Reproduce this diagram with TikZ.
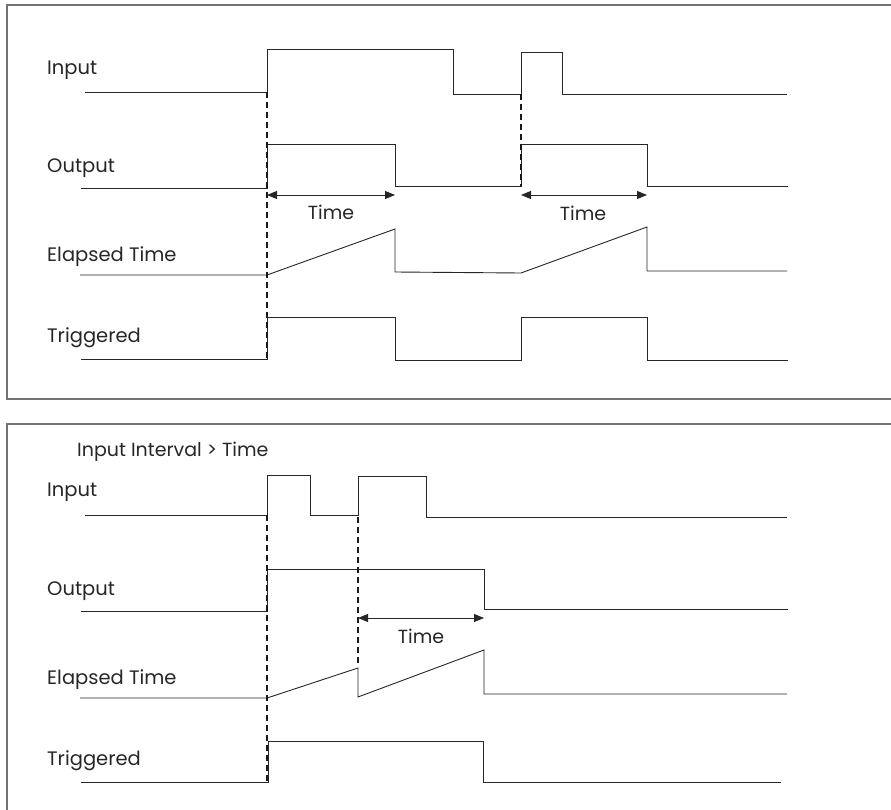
\documentclass[tikz,border=0pt]{standalone}
\usepackage{fontspec}
\setmainfont{Poppins}
\usetikzlibrary{arrows.meta}
\begin{document}
\begin{tikzpicture}[x=1pt,y=-1pt,
  wave/.style={draw=black!85,line width=0.9pt,line join=miter},
  frame/.style={draw=black!55,line width=1.4pt},
  guide/.style={draw=black!90,line width=1.1pt,dash pattern=on 6pt off 4pt},
  span/.style={draw=black!85,line width=0.9pt,{Triangle[length=10pt,width=8pt]}-{Triangle[length=10pt,width=8pt]}},
  lbl/.style={font=\fontsize{19.5}{22}\selectfont,anchor=west,inner sep=0pt,text=black!85},
  tlbl/.style={font=\fontsize{19}{22}\selectfont,inner sep=0pt,text=black!85}]
\useasboundingbox (0,0) rectangle (891,810);
\begin{scope}
\clip (0,0) rectangle (891,810);
% frames
\draw[frame] (7,5) rectangle (940,399);
\draw[frame] (7,424) rectangle (940,860);

% ---------- top panel ----------
\node[lbl] (tin) at (47,70) {Input};
\node[lbl] (tout) at (47,168) {Output};
\node[lbl] (tel) at (47,257) {Elapsed Time};
\node[lbl] (ttr) at (47,338) {Triggered};

\draw[wave] (85,92) -- (267,92) -- (267,49) -- (453,49) -- (453,94) -- (521,94) -- (521,52) -- (562,52) -- (562,94) -- (787,94);
\draw[wave] (81,188) -- (267,188) -- (267,144) -- (395,144) -- (395,186) -- (521,186) -- (521,144) -- (647,144) -- (647,186) -- (788,186);
\draw[wave] (80,275) -- (267,275) -- (395,229) -- (395,272) -- (521,273) -- (647,227) -- (647,271) -- (787,271);
\draw[wave] (81,359) -- (267,359) -- (267,317) -- (395,317) -- (395,360) -- (521,360) -- (521,317) -- (647,317) -- (647,360) -- (788,360);

\coordinate (ta1) at (267,195);
\coordinate (tb1) at (395,195);
\coordinate (ta2) at (521,195);
\coordinate (tb2) at (647,195);
\draw[span] (ta1) -- (tb1);
\draw[span] (ta2) -- (tb2);
\node[tlbl] (tt1) at (331,212) {Time};
\node[tlbl] (tt2) at (583,213) {Time};

\coordinate (td1a) at (267,92);
\coordinate (td1b) at (267,359);
\coordinate (td2a) at (521,94);
\coordinate (td2b) at (521,186);
\draw[guide] (td1a) -- (td1b);
\draw[guide] (td2a) -- (td2b);

% ---------- bottom panel ----------
\node[tlbl,anchor=west] (btitle) at (77,452) {Input Interval > Time};
\node[lbl] (bin) at (47,492) {Input};
\node[lbl] (bout) at (47,591) {Output};
\node[lbl] (bel) at (47,680) {Elapsed Time};
\node[lbl] (btr) at (47,761) {Triggered};

\draw[wave] (85,515) -- (267,515) -- (267,475) -- (310,475) -- (310,515) -- (358,515) -- (358,476) -- (426,476) -- (426,517) -- (787,517);
\draw[wave] (81,611) -- (267,611) -- (267,569) -- (484,569) -- (484,609) -- (788,609);
\draw[wave] (80,698) -- (267,698) -- (358,668) -- (358,697) -- (484,650) -- (484,694) -- (787,694);
\draw[wave] (81,782) -- (268,782) -- (268,741) -- (483,741) -- (483,782) -- (781,782);

\coordinate (ba) at (358,618);
\coordinate (bb) at (484,618);
\draw[span] (ba) -- (bb);
\node[tlbl] (bt) at (421,636) {Time};

\coordinate (bd1a) at (267,515);
\coordinate (bd1b) at (267,782);
\coordinate (bd2a) at (358,517);
\coordinate (bd2b) at (358,664);
\draw[guide] (bd1a) -- (bd1b);
\draw[guide] (bd2a) -- (bd2b);
\end{scope}
\end{tikzpicture}
\end{document}
